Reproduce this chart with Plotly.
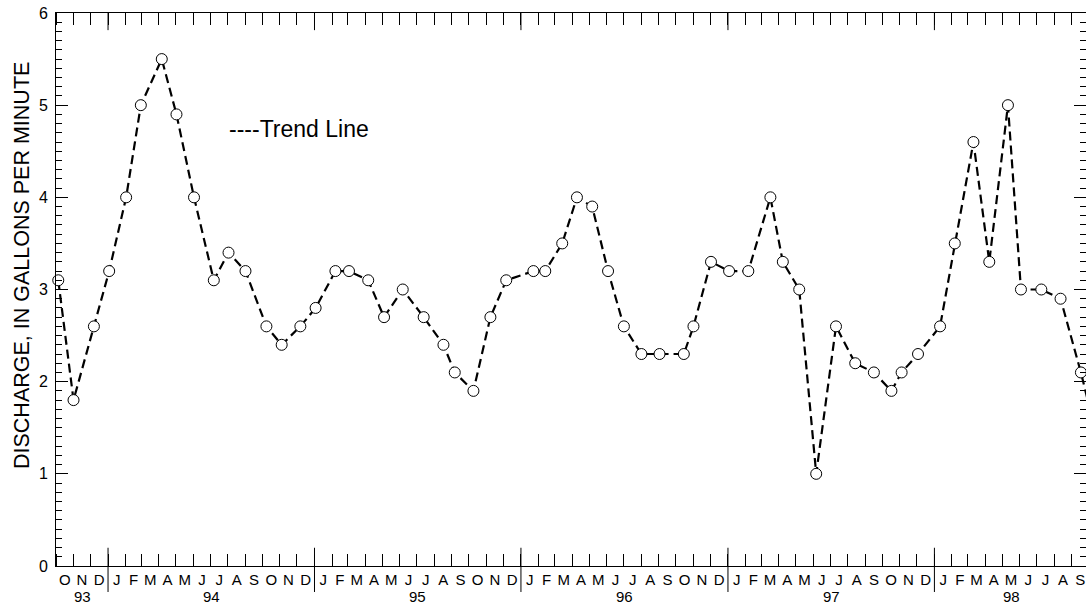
import pandas as pd
import plotly.graph_objects as go

# Sampling dates and measured discharge (gallons per minute)
sample_dates = [
    "1993-10-05", "1993-11-01", "1993-12-07",
    "1994-01-03", "1994-02-02", "1994-02-28", "1994-04-06", "1994-05-02", "1994-06-02",
    "1994-07-07", "1994-08-02", "1994-09-01", "1994-10-08", "1994-11-04", "1994-12-07",
    "1995-01-03", "1995-02-07", "1995-03-03", "1995-04-06", "1995-05-04", "1995-06-06",
    "1995-07-13", "1995-08-17", "1995-09-06", "1995-10-09", "1995-11-08", "1995-12-06",
    "1996-01-23", "1996-02-13", "1996-03-14", "1996-04-09", "1996-05-06", "1996-06-03",
    "1996-07-01", "1996-08-01", "1996-09-02", "1996-10-15", "1996-11-01", "1996-12-02",
    "1997-01-03", "1997-02-06", "1997-03-17", "1997-04-08", "1997-05-07", "1997-06-06",
    "1997-07-11", "1997-08-14", "1997-09-16", "1997-10-17", "1997-11-04", "1997-12-03",
    "1998-01-11", "1998-02-06", "1998-03-11", "1998-04-08", "1998-05-11", "1998-06-03",
    "1998-07-09", "1998-08-12", "1998-09-17", "1998-10-15",
]
discharge_gpm = [
    3.1, 1.8, 2.6,
    3.2, 4.0, 5.0, 5.5, 4.9, 4.0,
    3.1, 3.4, 3.2, 2.6, 2.4, 2.6,
    2.8, 3.2, 3.2, 3.1, 2.7, 3.0,
    2.7, 2.4, 2.1, 1.9, 2.7, 3.1,
    3.2, 3.2, 3.5, 4.0, 3.9, 3.2,
    2.6, 2.3, 2.3, 2.3, 2.6, 3.3,
    3.2, 3.2, 4.0, 3.3, 3.0, 1.0,
    2.6, 2.2, 2.1, 1.9, 2.1, 2.3,
    2.6, 3.5, 4.6, 3.3, 5.0, 3.0,
    3.0, 2.9, 2.1, 1.4,
]

month_letters = list("JFMAMJJASOND")
year_labels = ["93", "94", "95", "96", "97", "98"]
y_range = [0, 6]
x_start, x_end = "1993-10-01", "1998-09-26"

FONT = "Arial, Liberation Sans, sans-serif"

# Month boundaries and month midpoints for the time axis
month_starts = pd.date_range("1993-10-01", "1998-10-01", freq="MS")
mid_months = [a + (b - a) / 2 for a, b in zip(month_starts[:-1], month_starts[1:])]
mid_letters = [month_letters[d.month - 1] for d in mid_months]

fig = go.Figure()
fig.add_trace(go.Scatter(
    x=pd.to_datetime(sample_dates), y=discharge_gpm,
    mode="lines+markers",
    line=dict(color="black", width=2.2, dash="9px,5px"),
    marker=dict(symbol="circle", size=11, color="white",
                line=dict(color="black", width=1)),
    cliponaxis=False,
    showlegend=False,
))
# Carrier for the right-hand tick axis
fig.add_trace(go.Scatter(
    x=[pd.Timestamp(x_start)], y=[y_range[0]], yaxis="y2",
    mode="markers", marker=dict(opacity=0), hoverinfo="skip", showlegend=False,
))

# Year separators crossing the bottom axis and hanging from the top axis
shapes = []
year_starts = [pd.Timestamp(f"19{y}-01-01") for y in year_labels[1:]]
for ys in year_starts:
    shapes.append(dict(type="line", xref="x", yref="paper", x0=ys, x1=ys,
                       y0=-0.047, y1=0.033, line=dict(color="black", width=1)))
    shapes.append(dict(type="line", xref="x", yref="paper", x0=ys, x1=ys,
                       y0=1.0, y1=0.969, line=dict(color="black", width=1)))

# Year labels centred under the visible part of each year
annotations = []
lo = pd.Timestamp(x_start)
for lab in year_labels:
    a = max(pd.Timestamp(f"19{lab}-01-01"), lo)
    b = min(pd.Timestamp(f"19{lab}-12-31") + pd.Timedelta(days=1), pd.Timestamp("1998-10-01"))
    annotations.append(dict(x=a + (b - a) / 2, y=-0.056, xref="x", yref="paper",
                            text=lab, showarrow=False, yanchor="middle",
                            font=dict(family=FONT, size=15, color="black")))

annotations.append(dict(x=0.166, y=0.79, xref="paper", yref="paper",
                        text="----Trend Line", showarrow=False,
                        xanchor="left", yanchor="middle",
                        font=dict(family=FONT, size=23, color="black")))

annotations.append(dict(x=-0.033, y=0.5425, xref="paper", yref="paper",
                        text="DISCHARGE, IN GALLONS PER MINUTE", textangle=-90,
                        showarrow=False, xanchor="center", yanchor="middle",
                        font=dict(family=FONT, size=21.5, color="black")))

fig.update_layout(
    width=1086, height=607,
    margin=dict(l=56, r=0, t=13, b=41),
    paper_bgcolor="white", plot_bgcolor="white",
    font=dict(family=FONT, color="black"),
    shapes=shapes, annotations=annotations,
    xaxis=dict(
        type="date", range=[x_start, x_end],
        tickvals=mid_months, ticktext=mid_letters,
        ticks="", tickfont=dict(size=15),
        showline=True, linecolor="black", linewidth=1, mirror="ticks",
        showgrid=False, zeroline=False,
        minor=dict(tickvals=list(month_starts), ticks="inside", ticklen=12,
                   tickcolor="black", tickwidth=1, showgrid=False),
    ),
    yaxis=dict(
        range=y_range, dtick=1, tick0=0,
        ticks="inside", ticklen=12, tickcolor="black", tickwidth=1,
        tickfont=dict(size=16), ticklabelstandoff=4,
        showline=True, linecolor="black", linewidth=1, mirror=False,
        showgrid=False, zeroline=False,
        minor=dict(dtick=0.1, ticks="inside", ticklen=6,
                   tickcolor="black", tickwidth=1, showgrid=False),
    ),
    yaxis2=dict(
        range=y_range, dtick=1, tick0=0, overlaying="y", side="right",
        ticks="inside", ticklen=12, tickcolor="black", tickwidth=1,
        showticklabels=False, showline=False, showgrid=False, zeroline=False,
        minor=dict(dtick=0.1, ticks="inside", ticklen=6,
                   tickcolor="black", tickwidth=1, showgrid=False),
    ),
)

fig.write_html("out.html")
